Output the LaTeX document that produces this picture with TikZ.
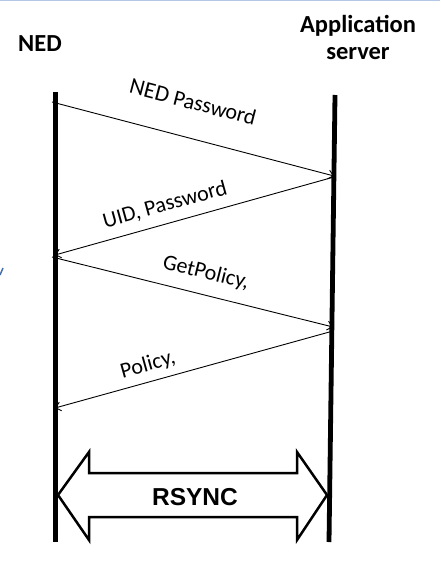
\documentclass[tikz,border=0pt]{standalone}
\usepackage{fontspec}
\setmainfont{Carlito}
\newfontfamily\arialfont{Liberation Sans}
\usetikzlibrary{arrows.meta}
\definecolor{topblue}{RGB}{180,200,230}
\definecolor{markblue}{RGB}{70,110,170}
\tikzset{
  lifeline/.style={line width=4.8pt, line cap=butt},
  msg/.style={line width=0.9pt, -{Straight Barb[length=5pt,width=9pt,line width=0.9pt]}},
  msglabel/.style={font=\fontsize{22}{24}\selectfont, inner sep=0pt},
  header/.style={font=\bfseries\fontsize{24.5}{27}\selectfont, align=center, inner sep=0pt},
}
\begin{document}
\begin{tikzpicture}[x=1pt,y=-1pt]
\useasboundingbox (0,0) rectangle (440,580);
\draw[topblue, line width=1.5pt] (0,0.75) -- (440,0.75);
\draw[markblue, line width=1.5pt] (0,275) -- (3,268);

\node[header] (ned) at (40,44) {NED};
\node[header] (app) at (358,37) {Application\\server};

\coordinate (lt) at (55.5,92);
\coordinate (lb) at (55.5,542);
\coordinate (rt) at (335,95);
\coordinate (rb) at (329,542);
\draw[lifeline] (lt) -- (lb);
\draw[lifeline] (rt) -- (rb);

\coordinate (a1s) at (52,102);
\coordinate (a1e) at (334,176);
\coordinate (a2s) at (334,177);
\coordinate (a2e) at (55,255);
\coordinate (a3s) at (52,257);
\coordinate (a3e) at (333,327);
\coordinate (a4s) at (333,331);
\coordinate (a4e) at (55,408);
\draw[msg] (a1s) -- (a1e);
\draw[msg] (a2s) -- (a2e);
\draw[msg] (a3s) -- (a3e);
\draw[msg] (a4s) -- (a4e);

\node[msglabel, rotate=-14.6] (l1) at (193,102) {{\fontsize{23}{24}\selectfont NED} Password};
\node[msglabel, rotate=15.5] (l2) at (165,205) {UID, Password};
\node[msglabel, rotate=-14] (l3) at (206,273) {GetPolicy,};
\node[msglabel, rotate=15.5] (l4) at (148,365) {Policy,};

\coordinate (rl) at (58,495);
\coordinate (rr) at (327,495);
\draw[line width=2.5pt, fill=white, line join=miter]
  (rl) -- (89,452) -- (89,473) -- (297,473) -- (297,452) -- (rr)
  -- (297,540) -- (297,517) -- (89,517) -- (89,540) -- cycle;
\node[font=\arialfont\bfseries\fontsize{24.5}{26}\selectfont, inner sep=0pt] (rsync) at (195,497) {RSYNC};
\end{tikzpicture}
\end{document}
